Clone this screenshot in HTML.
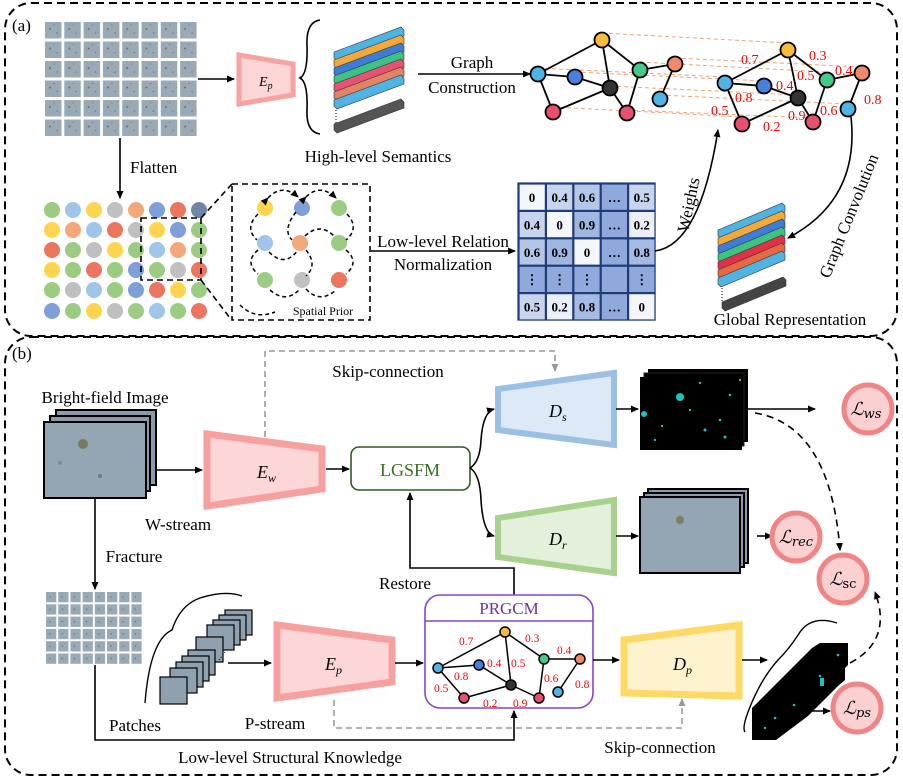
<!DOCTYPE html>
<html><head><meta charset="utf-8"><style>
html,body{margin:0;padding:0;background:#fff}
svg{display:block;font-family:"Liberation Serif",serif}
</style></head><body>
<svg width="903" height="779" viewBox="0 0 903 779" xmlns="http://www.w3.org/2000/svg">
<defs>
<marker id="ar" markerWidth="8" markerHeight="8" refX="7" refY="4" orient="auto" markerUnits="userSpaceOnUse"><path d="M0,0.5 L8,4 L0,7.5 z" fill="#000"/></marker>
<marker id="arg" markerWidth="8" markerHeight="8" refX="7" refY="4" orient="auto" markerUnits="userSpaceOnUse"><path d="M0,0.5 L8,4 L0,7.5 z" fill="#999"/></marker>
<pattern id="pg" x="45" y="22" width="19.3" height="19.5" patternUnits="userSpaceOnUse"><rect width="16.5" height="16.5" fill="#9aa9b6"/><circle cx="5" cy="7" r="1" fill="#6a7060"/><circle cx="12" cy="11" r="0.8" fill="#777"/><circle cx="9" cy="3" r="0.6" fill="#777"/></pattern>
<pattern id="pg2" x="46" y="592" width="12.2" height="12.3" patternUnits="userSpaceOnUse"><rect width="10.3" height="10.3" fill="#9aa9b6"/><circle cx="4" cy="5" r="0.7" fill="#666"/></pattern>
</defs>

<rect x="5" y="3" width="892" height="333" rx="26" fill="none" stroke="#000" stroke-width="2" stroke-dasharray="8,5"/>
<rect x="5" y="337" width="892" height="438" rx="26" fill="none" stroke="#000" stroke-width="2" stroke-dasharray="8,5"/>
<text x="12" y="31" font-size="17">(a)</text>
<text x="12" y="359" font-size="17">(b)</text>

<rect x="45" y="22" width="153" height="116" fill="url(#pg)"/>
<line x1="198" y1="79" x2="234" y2="79" stroke="#000" stroke-width="1.6" marker-end="url(#ar)"/>
<polygon points="239,55 293,64 293,95 239,104" fill="#fcd6d6" stroke="#f6a3a3" stroke-width="5"/>
<text x="259" y="86" font-size="14" font-style="italic">E<tspan font-size="10" dy="3">p</tspan></text>

<path d="M320,20 Q306,22 307,45 Q308,74 300,78 Q308,82 307,110 Q306,132 320,134" fill="none" stroke="#000" stroke-width="1.6"/>
<g stroke="#333" stroke-width="0.6">
<polygon points="334,52 401,27 404,30 404,36 337,61 334,58" fill="#4fb3e3"/>
<polygon points="334,60 401,35 404,38 404,44 337,69 334,66" fill="#f2a93a"/>
<polygon points="334,68 401,43 404,46 404,52 337,77 334,74" fill="#3d7dd8"/>
<polygon points="334,76 401,51 404,54 404,60 337,85 334,82" fill="#3cc383"/>
<polygon points="334,84 401,59 404,62 404,68 337,93 334,90" fill="#e45373"/>
<polygon points="334,92 401,67 404,70 404,76 337,101 334,98" fill="#e38363"/>
<polygon points="334,100 401,75 404,78 404,84 337,109 334,106" fill="#4fb3e3"/>
<polygon points="334,124 401,99 404,102 404,108 337,133 334,130" fill="#555"/>
</g>
<line x1="336" y1="110" x2="336" y2="124" stroke="#000" stroke-dasharray="1,2"/>
<text x="378" y="162" font-size="17" text-anchor="middle">High-level Semantics</text>

<text x="472" y="68" font-size="17" text-anchor="middle">Graph</text>
<text x="472" y="93" font-size="17" text-anchor="middle">Construction</text>
<line x1="418" y1="74" x2="530" y2="74" stroke="#000" stroke-width="1.6" marker-end="url(#ar)"/>

<g stroke="#f0a478" stroke-width="1" stroke-dasharray="4,3">
<line x1="602" y1="33" x2="788" y2="43"/><line x1="538" y1="68" x2="725" y2="77"/>
<line x1="575" y1="72" x2="764" y2="81"/><line x1="640" y1="62" x2="827" y2="72"/>
<line x1="675" y1="58" x2="862" y2="67"/><line x1="610" y1="86" x2="798" y2="95"/>
<line x1="660" y1="95" x2="848" y2="104"/><line x1="553" y1="107" x2="742" y2="117"/>
<line x1="627" y1="110" x2="813" y2="118"/>
</g>
<g stroke="#000" stroke-width="1.8">
<line x1="538" y1="74" x2="602" y2="40"/><line x1="538" y1="74" x2="575" y2="77"/>
<line x1="575" y1="77" x2="610" y2="88"/><line x1="602" y1="40" x2="610" y2="88"/>
<line x1="602" y1="40" x2="640" y2="70"/><line x1="553" y1="112" x2="610" y2="88"/>
<line x1="538" y1="74" x2="553" y2="112"/><line x1="610" y1="88" x2="627" y2="113"/>
<line x1="640" y1="70" x2="627" y2="113"/><line x1="640" y1="70" x2="675" y2="64"/>
<line x1="675" y1="64" x2="660" y2="99"/>
<circle cx="538" cy="74" r="7.5" fill="#4fb3e3"/><circle cx="575" cy="77" r="7.5" fill="#4a80dc"/>
<circle cx="602" cy="40" r="7.5" fill="#f9bb3c"/><circle cx="610" cy="88" r="7.5" fill="#333"/>
<circle cx="640" cy="70" r="7.5" fill="#45c88a"/><circle cx="675" cy="64" r="7.5" fill="#ee8a6a"/>
<circle cx="660" cy="99" r="7.5" fill="#4fb3e3"/><circle cx="553" cy="112" r="7.5" fill="#e6506d"/>
<circle cx="627" cy="113" r="7.5" fill="#e6506d"/>
</g>
<g stroke="#000" stroke-width="1.8">
<line x1="725" y1="83" x2="788" y2="50"/><line x1="725" y1="83" x2="764" y2="86"/>
<line x1="764" y1="86" x2="798" y2="98"/><line x1="788" y1="50" x2="798" y2="98"/>
<line x1="788" y1="50" x2="827" y2="80"/><line x1="742" y1="124" x2="798" y2="98"/>
<line x1="725" y1="83" x2="742" y2="124"/><line x1="798" y1="98" x2="813" y2="122"/>
<line x1="827" y1="80" x2="813" y2="122"/><line x1="827" y1="80" x2="862" y2="73"/>
<line x1="862" y1="73" x2="848" y2="109"/>
<circle cx="725" cy="83" r="7.5" fill="#4fb3e3"/><circle cx="764" cy="86" r="7.5" fill="#4a80dc"/>
<circle cx="788" cy="50" r="7.5" fill="#f9bb3c"/><circle cx="798" cy="98" r="7.5" fill="#333"/>
<circle cx="827" cy="80" r="7.5" fill="#45c88a"/><circle cx="862" cy="73" r="7.5" fill="#ee8a6a"/>
<circle cx="848" cy="109" r="7.5" fill="#4fb3e3"/><circle cx="742" cy="124" r="7.5" fill="#e6506d"/>
<circle cx="813" cy="122" r="7.5" fill="#e6506d"/>
</g>
<g fill="#f00" font-size="14">
<text x="741" y="64">0.7</text><text x="809" y="60">0.3</text><text x="835" y="75">0.4</text>
<text x="797" y="80">0.5</text><text x="776" y="90">0.4</text><text x="735" y="102">0.8</text>
<text x="711" y="115">0.5</text><text x="763" y="131">0.2</text><text x="788" y="120">0.9</text>
<text x="820" y="115">0.6</text><text x="864" y="104">0.8</text>
</g>

<line x1="120" y1="138" x2="120" y2="198" stroke="#000" stroke-width="1.6" marker-end="url(#ar)"/>
<text x="130" y="173" font-size="17">Flatten</text>

<g>
<circle cx="52" cy="210" r="8" fill="#9ccc82"/><circle cx="73" cy="210" r="8" fill="#9fc5e8"/><circle cx="94" cy="210" r="8" fill="#ffd54f"/><circle cx="115" cy="210" r="8" fill="#c0c0c0"/><circle cx="136" cy="210" r="8" fill="#f4a77a"/><circle cx="157" cy="210" r="8" fill="#7f9fd9"/><circle cx="178" cy="210" r="8" fill="#ec7560"/><circle cx="199" cy="210" r="8" fill="#6f86a6"/>
<circle cx="52" cy="230" r="8" fill="#ffd54f"/><circle cx="73" cy="230" r="8" fill="#f4a77a"/><circle cx="94" cy="230" r="8" fill="#9fc5e8"/><circle cx="115" cy="230" r="8" fill="#ec7560"/><circle cx="136" cy="230" r="8" fill="#c0c0c0"/><circle cx="157" cy="230" r="8" fill="#ffd54f"/><circle cx="178" cy="230" r="8" fill="#7f9fd9"/><circle cx="199" cy="230" r="8" fill="#9ccc82"/>
<circle cx="52" cy="250" r="8" fill="#ec7560"/><circle cx="73" cy="250" r="8" fill="#9ccc82"/><circle cx="94" cy="250" r="8" fill="#c0c0c0"/><circle cx="115" cy="250" r="8" fill="#ffd54f"/><circle cx="136" cy="250" r="8" fill="#9ccc82"/><circle cx="157" cy="250" r="8" fill="#9fc5e8"/><circle cx="178" cy="250" r="8" fill="#f4a77a"/><circle cx="199" cy="250" r="8" fill="#9ccc82"/>
<circle cx="52" cy="270" r="8" fill="#ffd54f"/><circle cx="73" cy="270" r="8" fill="#9ccc82"/><circle cx="94" cy="270" r="8" fill="#ec7560"/><circle cx="115" cy="270" r="8" fill="#9ccc82"/><circle cx="136" cy="270" r="8" fill="#7f9fd9"/><circle cx="157" cy="270" r="8" fill="#9ccc82"/><circle cx="178" cy="270" r="8" fill="#c0c0c0"/><circle cx="199" cy="270" r="8" fill="#ec7560"/>
<circle cx="52" cy="290" r="8" fill="#9ccc82"/><circle cx="73" cy="290" r="8" fill="#c0c0c0"/><circle cx="94" cy="290" r="8" fill="#9fc5e8"/><circle cx="115" cy="290" r="8" fill="#9ccc82"/><circle cx="136" cy="290" r="8" fill="#7f9fd9"/><circle cx="157" cy="290" r="8" fill="#ec7560"/><circle cx="178" cy="290" r="8" fill="#ffd54f"/><circle cx="199" cy="290" r="8" fill="#9ccc82"/>
<circle cx="52" cy="311" r="8" fill="#7f9fd9"/><circle cx="73" cy="311" r="8" fill="#9ccc82"/><circle cx="94" cy="311" r="8" fill="#ffd54f"/><circle cx="115" cy="311" r="8" fill="#c0c0c0"/><circle cx="136" cy="311" r="8" fill="#9ccc82"/><circle cx="157" cy="311" r="8" fill="#9fc5e8"/><circle cx="178" cy="311" r="8" fill="#9ccc82"/><circle cx="199" cy="311" r="8" fill="#ec7560"/>
</g>
<g fill="none" stroke="#000" stroke-width="1.6" stroke-dasharray="6,4">
<rect x="141" y="218" width="60" height="62"/>
<line x1="201" y1="218" x2="232" y2="184"/><line x1="201" y1="280" x2="230" y2="318"/>
<rect x="232" y="184" width="138" height="136"/>
</g>
<g>
<circle cx="265" cy="208" r="8" fill="#ffd54f"/><circle cx="302" cy="208" r="8" fill="#7f9fd9"/><circle cx="339" cy="208" r="8" fill="#9ccc82"/>
<circle cx="265" cy="243" r="8" fill="#9fc5e8"/><circle cx="300" cy="243" r="8" fill="#f4a77a"/><circle cx="339" cy="243" r="8" fill="#9ccc82"/>
<circle cx="265" cy="280" r="8" fill="#9ccc82"/><circle cx="302" cy="280" r="8" fill="#c0c0c0"/><circle cx="339" cy="280" r="8" fill="#ec7560"/>
</g>
<g fill="none" stroke="#000" stroke-width="1.5" stroke-dasharray="4,3">
<path d="M268,198 Q282,183 298,197" marker-end="url(#ar)" marker-start="url(#ar)"/>
<path d="M306,197 Q320,183 336,198" marker-end="url(#ar)" marker-start="url(#ar)"/>
<path d="M258,214 Q244,228 257,240"/><path d="M347,214 Q360,228 346,240"/>
<path d="M296,212 Q282,230 292,240"/><path d="M305,236 Q320,222 334,236"/>
<path d="M258,250 Q244,262 258,274"/><path d="M346,250 Q360,262 346,274"/>
<path d="M269,252 Q285,268 298,250"/><path d="M306,250 Q318,265 306,276"/>
<path d="M270,290 Q286,304 300,289"/><path d="M306,289 Q320,304 336,290"/>
<path d="M240,305 Q255,320 275,312"/>
</g>
<text x="323" y="315" font-size="12" text-anchor="middle">Spatial Prior</text>

<line x1="371" y1="251" x2="515" y2="251" stroke="#000" stroke-width="1.6" marker-end="url(#ar)"/>
<text x="443" y="247" font-size="17" text-anchor="middle">Low-level Relation</text>
<text x="443" y="270" font-size="17" text-anchor="middle">Normalization</text>

<g stroke="#1f3c78" stroke-width="1.2">
<rect x="518" y="183" width="137" height="137" fill="#1f3c78"/>
<rect x="519" y="184" width="26.4" height="26.4" fill="#f4f6fc"/><rect x="546.4" y="184" width="26.4" height="26.4" fill="#c7d4ee"/><rect x="573.8" y="184" width="26.4" height="26.4" fill="#b4c6e8"/><rect x="601.2" y="184" width="26.4" height="26.4" fill="#8fa9dc"/><rect x="628.6" y="184" width="26.4" height="26.4" fill="#c7d4ee"/>
<rect x="519" y="211.4" width="26.4" height="26.4" fill="#c7d4ee"/><rect x="546.4" y="211.4" width="26.4" height="26.4" fill="#f4f6fc"/><rect x="573.8" y="211.4" width="26.4" height="26.4" fill="#9fb6e1"/><rect x="601.2" y="211.4" width="26.4" height="26.4" fill="#8fa9dc"/><rect x="628.6" y="211.4" width="26.4" height="26.4" fill="#eaeff9"/>
<rect x="519" y="238.8" width="26.4" height="26.4" fill="#b4c6e8"/><rect x="546.4" y="238.8" width="26.4" height="26.4" fill="#9fb6e1"/><rect x="573.8" y="238.8" width="26.4" height="26.4" fill="#f4f6fc"/><rect x="601.2" y="238.8" width="26.4" height="26.4" fill="#8fa9dc"/><rect x="628.6" y="238.8" width="26.4" height="26.4" fill="#a6bbe3"/>
<rect x="519" y="266.2" width="26.4" height="26.4" fill="#8fa9dc"/><rect x="546.4" y="266.2" width="26.4" height="26.4" fill="#8fa9dc"/><rect x="573.8" y="266.2" width="26.4" height="26.4" fill="#8fa9dc"/><rect x="601.2" y="266.2" width="26.4" height="26.4" fill="#8fa9dc"/><rect x="628.6" y="266.2" width="26.4" height="26.4" fill="#8fa9dc"/>
<rect x="519" y="293.6" width="26.4" height="26.4" fill="#c7d4ee"/><rect x="546.4" y="293.6" width="26.4" height="26.4" fill="#eaeff9"/><rect x="573.8" y="293.6" width="26.4" height="26.4" fill="#a6bbe3"/><rect x="601.2" y="293.6" width="26.4" height="26.4" fill="#8fa9dc"/><rect x="628.6" y="293.6" width="26.4" height="26.4" fill="#f4f6fc"/>
</g>
<g font-size="13" font-weight="bold" text-anchor="middle">
<text x="532" y="202">0</text><text x="559.6" y="202">0.4</text><text x="587" y="202">0.6</text><text x="614.4" y="202">…</text><text x="641.8" y="202">0.5</text>
<text x="532" y="229.4">0.4</text><text x="559.6" y="229.4">0</text><text x="587" y="229.4">0.9</text><text x="614.4" y="229.4">…</text><text x="641.8" y="229.4">0.2</text>
<text x="532" y="256.8">0.6</text><text x="559.6" y="256.8">0.9</text><text x="587" y="256.8">0</text><text x="614.4" y="256.8">…</text><text x="641.8" y="256.8">0.8</text>
<text x="532" y="284.2">⋮</text><text x="559.6" y="284.2">⋮</text><text x="587" y="284.2">⋮</text><text x="641.8" y="284.2">⋮</text>
<text x="532" y="311.6">0.5</text><text x="559.6" y="311.6">0.2</text><text x="587" y="311.6">0.8</text><text x="614.4" y="311.6">…</text><text x="641.8" y="311.6">0</text>
</g>

<path d="M655,251 Q700,245 718,130" fill="none" stroke="#000" stroke-width="1.6" marker-end="url(#ar)"/>
<text transform="translate(694,206) rotate(-78)" font-size="17" text-anchor="middle">Weights</text>
<path d="M851,117 Q860,200 788,238" fill="none" stroke="#000" stroke-width="1.6" marker-end="url(#ar)"/>
<text transform="translate(854,218) rotate(-68)" font-size="17" text-anchor="middle">Graph Convolution</text>

<g stroke="#333" stroke-width="0.6">
<polygon points="718,230 782,203 785,206 785,212 721,239 718,236" fill="#4fb3e3"/>
<polygon points="718,238 782,211 785,214 785,220 721,247 718,244" fill="#f2a93a"/>
<polygon points="718,246 782,219 785,222 785,228 721,255 718,252" fill="#3d7dd8"/>
<polygon points="718,254 782,227 785,230 785,236 721,263 718,260" fill="#3cc383"/>
<polygon points="718,262 782,235 785,238 785,244 721,271 718,268" fill="#e0304a"/>
<polygon points="718,270 782,243 785,246 785,252 721,279 718,276" fill="#e86840"/>
<polygon points="718,278 782,251 785,254 785,260 721,287 718,284" fill="#4fb3e3"/>
<polygon points="722,302 783,277 786,280 786,286 725,311 722,308" fill="#444"/>
</g>
<line x1="722" y1="288" x2="722" y2="302" stroke="#000" stroke-dasharray="1,2"/>
<text x="790" y="325" font-size="17" text-anchor="middle">Global Representation</text>

<text x="105" y="403" font-size="17" text-anchor="middle">Bright-field Image</text>
<g stroke="#000" stroke-width="2">
<rect x="56" y="410" width="100" height="75" fill="#8a9bab"/>
<rect x="50" y="416" width="100" height="75" fill="#8a9bab"/>
<rect x="44" y="422" width="102" height="76" fill="#94a5b4"/>
</g>
<circle cx="83" cy="444" r="5" fill="#7a7a60"/><circle cx="100" cy="476" r="2" fill="#777"/><circle cx="60" cy="463" r="2" fill="#888"/>
<line x1="157" y1="470" x2="202" y2="470" stroke="#000" stroke-width="1.6" marker-end="url(#ar)"/>
<polygon points="207,434 322,449 322,489 207,506" fill="#fdd7d7" stroke="#f7a0a0" stroke-width="7"/>
<text x="257" y="478" font-size="18" font-style="italic">E<tspan font-size="12" dy="4">w</tspan></text>
<text x="178" y="530" font-size="17" text-anchor="middle">W-stream</text>

<path d="M265,437 V351 H555 V371" fill="none" stroke="#999" stroke-width="1.6" stroke-dasharray="6,4" marker-end="url(#arg)"/>
<text x="388" y="377" font-size="17" text-anchor="middle">Skip-connection</text>

<line x1="326" y1="469" x2="349" y2="469" stroke="#000" stroke-width="1.6" marker-end="url(#ar)"/>
<rect x="351" y="447" width="119" height="43" rx="8" fill="#fff" stroke="#2f5a20" stroke-width="1.6"/>
<text x="410" y="476" font-size="18" fill="#3a6e26" text-anchor="middle">LGSFM</text>
<path d="M470,468 Q480,462 481,440 Q483,412 494,409" fill="none" stroke="#000" stroke-width="1.6" marker-end="url(#ar)"/>
<path d="M470,468 Q480,474 481,500 Q483,533 494,536" fill="none" stroke="#000" stroke-width="1.6" marker-end="url(#ar)"/>

<polygon points="498,389 614,373 614,445 498,430" fill="#dde9f6" stroke="#9bc0e4" stroke-width="6"/>
<text x="549" y="417" font-size="18" font-style="italic">D<tspan font-size="12" dy="4">s</tspan></text>
<polygon points="498,518 614,500 614,573 498,557" fill="#e3f0dc" stroke="#a9d18e" stroke-width="6"/>
<text x="549" y="545" font-size="18" font-style="italic">D<tspan font-size="12" dy="4">r</tspan></text>

<line x1="616" y1="409" x2="638" y2="409" stroke="#000" stroke-width="1.6" marker-end="url(#ar)"/>
<rect x="648" y="369" width="100" height="73" fill="#000"/>
<rect x="644" y="373" width="100" height="73" fill="#000" stroke="#222"/>
<rect x="640" y="377" width="102" height="73" fill="#000"/>
<g fill="#19c4c4">
<circle cx="680" cy="397" r="4"/><circle cx="644" cy="414" r="3"/><circle cx="705" cy="430" r="1.5"/><circle cx="730" cy="395" r="1.3"/><circle cx="690" cy="410" r="1.2"/><circle cx="720" cy="420" r="1.3"/><circle cx="662" cy="426" r="1.2"/><circle cx="740" cy="380" r="1.2"/><circle cx="700" cy="383" r="1.2"/><circle cx="655" cy="440" r="1.2"/><circle cx="725" cy="437" r="1.5"/>
</g>
<line x1="748" y1="409" x2="815" y2="409" stroke="#000" stroke-width="1.6" marker-end="url(#ar)"/>

<line x1="616" y1="536" x2="638" y2="536" stroke="#000" stroke-width="1.6" marker-end="url(#ar)"/>
<g stroke="#000" stroke-width="2">
<rect x="648" y="489" width="100" height="74" fill="#8a9bab"/>
<rect x="644" y="493" width="100" height="74" fill="#8a9bab"/>
<rect x="640" y="497" width="100" height="76" fill="#94a5b4"/>
</g>
<circle cx="680" cy="520" r="4" fill="#7a7a60"/>
<line x1="757" y1="536" x2="772" y2="536" stroke="#000" stroke-width="1.6" marker-end="url(#ar)"/>

<g stroke="#f08585" stroke-width="5" fill="#fbd0d0">
<circle cx="868" cy="409" r="24"/><circle cx="796" cy="537" r="24"/><circle cx="843" cy="579" r="24"/><circle cx="857" cy="708" r="24"/>
</g>
<g font-size="18" font-style="italic" text-anchor="middle" font-family="'DejaVu Serif',serif">
<text x="866" y="415">ℒ<tspan font-size="13" dy="3">ws</tspan></text>
<text x="796" y="543">ℒ<tspan font-size="13" dy="3">rec</tspan></text>
<text x="843" y="585">ℒ<tspan font-size="13" dy="3" font-style="normal">sc</tspan></text>
<text x="857" y="714">ℒ<tspan font-size="13" dy="3">ps</tspan></text>
</g>
<path d="M755,413 Q830,425 840,550" fill="none" stroke="#000" stroke-width="1.6" stroke-dasharray="7,5" marker-end="url(#ar)"/>
<path d="M850,663 Q893,640 875,592" fill="none" stroke="#000" stroke-width="1.6" stroke-dasharray="7,5" marker-end="url(#ar)"/>

<path d="M514,595 V568 H410 V493" fill="none" stroke="#000" stroke-width="1.6" marker-end="url(#ar)"/>
<text x="405" y="589" font-size="17" text-anchor="middle">Restore</text>

<line x1="95" y1="498" x2="95" y2="589" stroke="#000" stroke-width="1.6" marker-end="url(#ar)"/>
<text x="134" y="562" font-size="17" text-anchor="middle">Fracture</text>
<rect x="46" y="592" width="97" height="73" fill="url(#pg2)"/>
<path d="M95,665 V740 H514 V711" fill="none" stroke="#000" stroke-width="1.6" marker-end="url(#ar)"/>
<text x="290" y="763" font-size="17" text-anchor="middle">Low-level Structural Knowledge</text>
<text x="135" y="731" font-size="17" text-anchor="middle">Patches</text>

<g stroke="#000" stroke-width="1.2" fill="#8fa0af">
<rect x="225" y="610" width="27" height="25"/><rect x="219" y="615" width="27" height="25"/><rect x="213" y="620" width="27" height="25"/><rect x="207" y="625" width="27" height="25"/><rect x="196" y="637" width="27" height="25"/><rect x="188" y="650" width="27" height="25"/><rect x="182" y="656" width="27" height="25"/><rect x="176" y="662" width="27" height="25"/><rect x="170" y="668" width="27" height="25"/><rect x="160" y="677" width="27" height="27"/>
</g>
<line x1="219" y1="660" x2="225" y2="652" stroke="#000" stroke-dasharray="1,2"/>
<path d="M242,596 Q225,590 200,598 Q180,605 172,630 Q150,640 145,703" fill="none" stroke="#000" stroke-width="1.4"/>
<line x1="228" y1="663" x2="271" y2="663" stroke="#000" stroke-width="1.6" marker-end="url(#ar)"/>
<polygon points="277,625 392,640 392,682 277,698" fill="#fdd7d7" stroke="#f7a0a0" stroke-width="7"/>
<text x="325" y="670" font-size="18" font-style="italic">E<tspan font-size="12" dy="4">p</tspan></text>
<text x="275" y="729" font-size="17" text-anchor="middle">P-stream</text>
<line x1="395" y1="663" x2="423" y2="663" stroke="#000" stroke-width="1.6" marker-end="url(#ar)"/>
<path d="M334,700 V728 H682 V699" fill="none" stroke="#999" stroke-width="1.6" stroke-dasharray="6,4" marker-end="url(#arg)"/>
<text x="660" y="753" font-size="17" text-anchor="middle">Skip-connection</text>

<rect x="425" y="595" width="168" height="113" rx="15" fill="#fff" stroke="#8a46c8" stroke-width="1.6"/>
<line x1="425" y1="621" x2="593" y2="621" stroke="#8a46c8" stroke-width="1.6"/>
<text x="509" y="614" font-size="17" fill="#7030a0" text-anchor="middle">PRGCM</text>
<g stroke="#000" stroke-width="1.5">
<line x1="438" y1="668" x2="505" y2="632"/><line x1="438" y1="668" x2="479" y2="665"/>
<line x1="479" y1="665" x2="511" y2="685"/><line x1="505" y1="632" x2="511" y2="685"/>
<line x1="505" y1="632" x2="544" y2="659"/><line x1="464" y1="698" x2="511" y2="685"/>
<line x1="438" y1="668" x2="464" y2="698"/><line x1="511" y1="685" x2="539" y2="698"/>
<line x1="544" y1="659" x2="539" y2="698"/><line x1="544" y1="659" x2="580" y2="659"/>
<line x1="580" y1="659" x2="558" y2="692"/>
<circle cx="438" cy="668" r="5" fill="#4fb3e3"/><circle cx="479" cy="665" r="5" fill="#4a80dc"/>
<circle cx="505" cy="632" r="5" fill="#f9bb3c"/><circle cx="511" cy="685" r="5" fill="#333"/>
<circle cx="544" cy="659" r="5" fill="#45c88a"/><circle cx="580" cy="659" r="5" fill="#ee8a6a"/>
<circle cx="558" cy="692" r="5" fill="#4fb3e3"/><circle cx="464" cy="698" r="5" fill="#e6506d"/>
<circle cx="539" cy="698" r="5" fill="#e6506d"/>
</g>
<g fill="#f00" font-size="11.5">
<text x="459" y="645">0.7</text><text x="525" y="642">0.3</text><text x="557" y="654">0.4</text>
<text x="454" y="680">0.8</text><text x="487" y="667">0.4</text><text x="511" y="667">0.5</text>
<text x="434" y="692">0.5</text><text x="544" y="682">0.6</text><text x="575" y="688">0.8</text>
<text x="483" y="707">0.2</text><text x="513" y="707">0.9</text>
</g>

<line x1="593" y1="660" x2="619" y2="660" stroke="#000" stroke-width="1.6" marker-end="url(#ar)"/>
<polygon points="624,640 739,625 739,696 624,693" fill="#fff3cf" stroke="#ffd966" stroke-width="7"/>
<text x="673" y="670" font-size="18" font-style="italic">D<tspan font-size="12" dy="4">p</tspan></text>
<line x1="742" y1="660" x2="767" y2="660" stroke="#000" stroke-width="1.6" marker-end="url(#ar)"/>

<g fill="#000">
<polygon points="820,643 848,643 848,665 845,668 845,680 838,686 832,692 826,698 820,704 814,710 808,716 800,722 792,728 784,734 776,740 752,740 752,708 758,702 764,696 770,690 776,684 782,678 788,672 794,666 800,660 806,654 812,648"/>
</g>
<g fill="#19c4c4"><circle cx="838" cy="655" r="1.3"/><circle cx="820" cy="676" r="1.3"/><circle cx="794" cy="705" r="1.3"/><circle cx="775" cy="718" r="1.3"/><circle cx="765" cy="728" r="1.2"/><rect x="820" y="678" width="4" height="8"/></g>
<path d="M837,623 Q812,615 800,632 Q790,648 778,660 Q760,680 748,712 Q742,728 745,732" fill="none" stroke="#000" stroke-width="1.4"/>
<line x1="805" y1="711" x2="830" y2="711" stroke="#000" stroke-width="1.6" marker-end="url(#ar)"/>
</svg>
</body></html>
